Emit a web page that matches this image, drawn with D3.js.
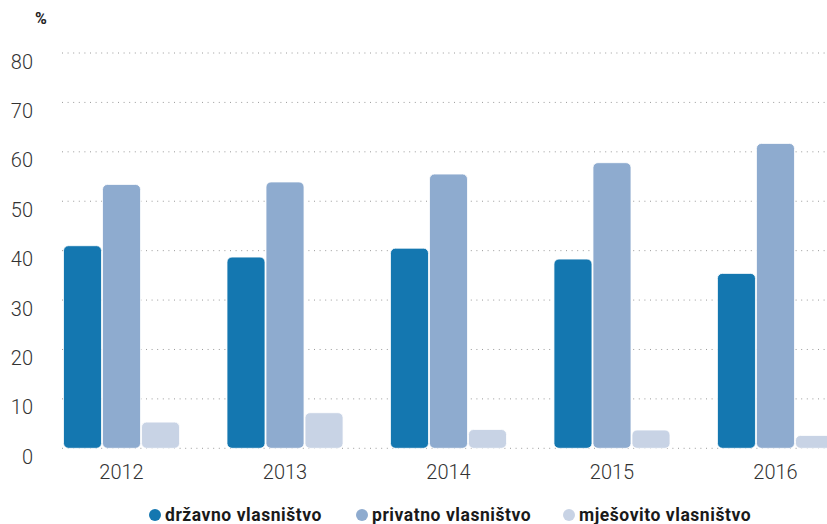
<!DOCTYPE html>
<html>
<head>
<meta charset="utf-8">
<script src="https://cdn.jsdelivr.net/npm/d3@7"></script>
<style>
  html, body { margin: 0; padding: 0; background: #fff; }
  svg { display: block; font-family: Roboto, "Noto Sans", sans-serif; }
</style>
</head>
<body>
<svg id="chart" width="827" height="524"></svg>
<script>
const years = ["2012", "2013", "2014", "2015", "2016"];
const seriesNames = ["državno vlasništvo", "privatno vlasništvo", "mješovito vlasništvo"];
const drzavno = [41.0, 38.7, 40.5, 38.3, 35.4];
const privatno = [53.4, 53.9, 55.5, 57.8, 61.7];
const mjesovito = [5.3, 7.2, 3.8, 3.7, 2.6];
const yTicks = [0, 10, 20, 30, 40, 50, 60, 70, 80];
const colors = ["#1477b0", "#8eabcf", "#c8d3e5"];

const seriesValues = [drzavno, privatno, mjesovito];
const data = years.map((yr, i) => ({
  year: yr,
  values: seriesNames.map((s, k) => ({ key: s, value: seriesValues[k][i], k }))
}));

const svg = d3.select("#chart");
const W = 827, H = 524;

const y = d3.scaleLinear().domain([0, 80]).range([448.3, 53]);
const x0 = d3.scaleBand().domain(years).range([63, 834]).paddingInner(0.284).paddingOuter(0);
const x1 = d3.scaleBand().domain(seriesNames).range([0, x0.bandwidth()]);
const color = d3.scaleOrdinal().domain(seriesNames).range(colors);

// grid
const grid = svg.append("g");
grid.selectAll("line").data(yTicks).join("line")
  .attr("x1", 62).attr("x2", W)
  .attr("y1", d => y(d)).attr("y2", d => y(d))
  .attr("stroke", "#9a9a9a").attr("stroke-width", 1)
  .attr("stroke-dasharray", "1,4.6");

// y labels
const yAxis = d3.axisLeft(y).tickValues(yTicks).tickSize(0).tickPadding(0);
const ya = svg.append("g").attr("transform", "translate(33,0)").call(yAxis);
ya.select(".domain").remove();
ya.selectAll("text")
  .attr("font-family", "Roboto, sans-serif")
  .attr("font-weight", 300)
  .attr("font-size", 20)
  .attr("fill", "#333")
  .attr("dy", "0")
  .attr("y", 15)
  .attr("text-anchor", "end");

svg.append("text").attr("x", 41).attr("y", 24)
  .attr("text-anchor", "middle").attr("font-weight", 700)
  .attr("font-size", 16).attr("fill", "#222").text("%");

// bars
const groups = svg.append("g").selectAll("g").data(data).join("g")
  .attr("transform", d => `translate(${x0(d.year)},0)`);
groups.selectAll("rect").data(d => d.values).join("rect")
  .attr("x", d => x1(d.key) + 0.5)
  .attr("width", x1.bandwidth() - 1)
  .attr("y", d => y(d.value))
  .attr("height", d => y(0) - y(d.value))
  .attr("rx", 5).attr("ry", 5)
  .attr("fill", d => color(d.key))
  .attr("stroke", "#fff").attr("stroke-width", 0.8);

// x labels
const xAxis = d3.axisBottom(x0).tickSize(0).tickPadding(0);
const xa = svg.append("g").call(xAxis);
xa.select(".domain").remove();
xa.selectAll("text")
  .attr("font-family", "Roboto, sans-serif")
  .attr("font-weight", 300)
  .attr("font-size", 20)
  .attr("fill", "#333")
  .attr("dy", "0")
  .attr("y", 479);

// legend
const legendX = [155, 362, 569];
const lg = svg.append("g").selectAll("g").data(seriesNames).join("g")
  .attr("transform", (d, i) => `translate(${legendX[i]},515)`);
lg.append("circle").attr("r", 6).attr("cx", 0).attr("cy", 0).attr("fill", d => color(d));
lg.append("text").attr("x", 10).attr("y", 6)
  .attr("font-weight", 700).attr("font-size", 17.5).attr("fill", "#1a1a1a")
  .attr("letter-spacing", 0.55)
  .text(d => d);
</script>
</body>
</html>
